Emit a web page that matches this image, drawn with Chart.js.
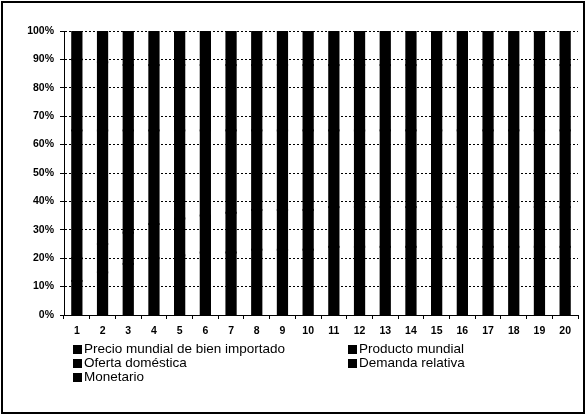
<!DOCTYPE html>
<html>
<head>
<meta charset="utf-8">
<script src="https://cdn.jsdelivr.net/npm/chart.js@4/dist/chart.umd.min.js"></script>
<style>
  html, body { margin: 0; padding: 0; background: #fff; }
  #wrap { position: relative; width: 586px; height: 415px; }
  #c { position: absolute; left: 0; top: 0; }
  #legend { position: absolute; left: 0; top: 0; width: 586px; height: 415px; pointer-events: none;
            font-family: "Liberation Sans", Arial, sans-serif; font-size: 13.5px; color: #000; }
  .li { position: absolute; white-space: nowrap; line-height: 14px; }
  .sw { display: inline-block; width: 9px; height: 9px; background: #000; margin-right: 2px; vertical-align: -1px; }
</style>
</head>
<body>
<div id="wrap">
  <canvas id="c" width="586" height="415"></canvas>
  <div id="legend"></div>
</div>
<script>
// Categories (periods)
const categories = ["1","2","3","4","5","6","7","8","9","10","11","12","13","14","15","16","17","18","19","20"];
// Series (all drawn black in the reference, so shares are estimates)
const precioMundial   = [12,15,18,20,21,22,22,23,23,23,24,24,24,24,24,24,24,24,24,24];
const productoMundial = [ 8,10,11,12,13,13,14,14,14,14,14,14,14,14,14,14,14,14,14,14];
const ofertaDomestica = [45,40,36,33,31,30,29,28,28,28,27,27,27,27,27,27,27,27,27,27];
const demandaRelativa = [25,24,23,23,23,23,23,23,23,23,23,23,23,23,23,23,23,23,23,23];
const monetario       = [10,11,12,12,12,12,12,12,12,12,12,12,12,12,12,12,12,12,12,12];
const seriesNames = ["Precio mundial de bien importado","Producto mundial","Oferta doméstica","Demanda relativa","Monetario"];
const yTicks = [0,10,20,30,40,50,60,70,80,90,100];

const seriesValues = [precioMundial, productoMundial, ofertaDomestica, demandaRelativa, monetario];

const frame = {
  id: 'frame',
  afterDraw(chart) {
    const ctx = chart.ctx;
    ctx.save();
    ctx.strokeStyle = '#000';
    ctx.lineWidth = 2;
    ctx.strokeRect(2, 2, 582, 411);
    ctx.restore();
  }
};

const chart = new Chart(document.getElementById('c'), {
  type: 'bar',
  data: {
    labels: categories,
    datasets: seriesValues.map((v, i) => ({
      label: seriesNames[i],
      data: v,
      backgroundColor: '#000',
      borderWidth: 0,
      inflateAmount: 1,
      barPercentage: 0.36,
      categoryPercentage: 1.0
    }))
  },
  options: {
    responsive: false,
    animation: false,
    layout: { padding: { top: 31, left: 8, right: 8, bottom: 70 } },
    plugins: { legend: { display: false }, tooltip: { enabled: false } },
    scales: {
      x: {
        stacked: true,
        offset: true,
        grid: { display: true, drawOnChartArea: false, drawTicks: true, tickLength: 4, color: '#000', offset: true },
        border: { display: true, color: '#000', width: 1 },
        ticks: { color: '#000', padding: 6, maxRotation: 0, autoSkip: false,
                 font: { family: '"Liberation Sans", Arial, sans-serif', size: 10.5, weight: 'bold' } },
        afterFit(s) { s.height = 30; }
      },
      y: {
        stacked: true,
        min: 0, max: 100,
        afterBuildTicks(s) { s.ticks = yTicks.map(v => ({ value: v })); },
        grid: { color: '#000', lineWidth: 1, borderDash: [4, 3], tickLength: 4, tickBorderDash: [] },
        border: { display: true, color: '#000', width: 1, dash: [2, 2] },
        ticks: { color: '#000', padding: 6,
                 callback: v => v + '%',
                 font: { family: '"Liberation Sans", Arial, sans-serif', size: 10.5, weight: 'bold' } },
        afterFit(s) { s.width = 56; }
      }
    }
  },
  plugins: [frame]
});

// HTML legend built from datasets (two columns, as in the reference)
const legend = document.getElementById('legend');
const pos = [[73, 342], [348, 342], [73, 356], [348, 356], [73, 370]];
chart.data.datasets.forEach((ds, i) => {
  const d = document.createElement('div');
  d.className = 'li';
  d.style.left = pos[i][0] + 'px';
  d.style.top = pos[i][1] + 'px';
  d.innerHTML = '<span class="sw"></span>' + ds.label;
  legend.appendChild(d);
});
</script>
</body>
</html>
